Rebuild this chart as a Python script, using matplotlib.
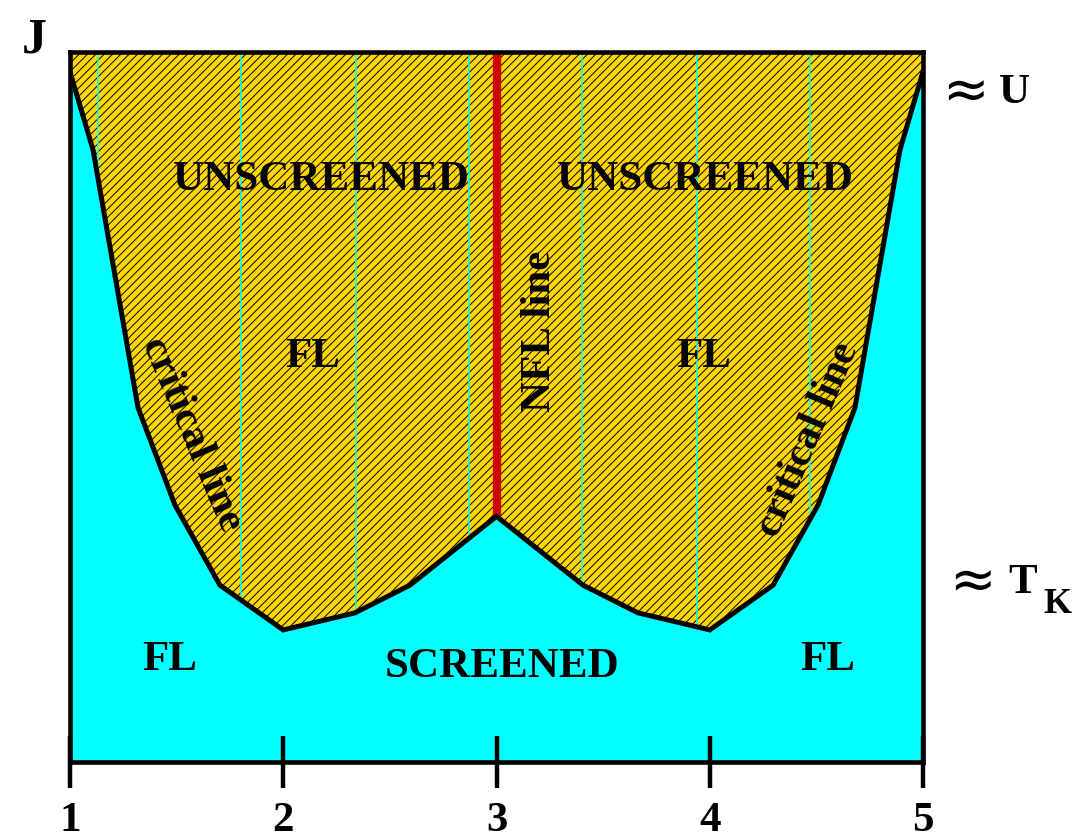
import numpy as np
import matplotlib.pyplot as plt
from matplotlib.patches import Polygon

plt.rcParams['font.family'] = ['Liberation Serif', 'DejaVu Serif']
plt.rcParams['font.weight'] = 'bold'
plt.rcParams['hatch.linewidth'] = 0.7

# critical line (x = N, y = J in units of the full height 0..10)
crit_x = [1.0, 1.108, 1.319, 1.492, 1.703, 2.0, 2.336, 2.594, 3.0,
          3.406, 3.664, 4.0, 4.297, 4.508, 4.681, 4.892, 5.0]
crit_y = [9.72, 8.62, 4.99, 3.62, 2.49, 1.86, 2.10, 2.49, 3.46,
          2.49, 2.10, 1.86, 2.49, 3.62, 4.99, 8.62, 9.72]
ymax = 10.0
nfl_x = 3.0
nfl_bottom = 3.46
guide_x = [1.13, 1.80, 2.34, 2.87, 3.40, 3.94, 4.47]
xticks = [1, 2, 3, 4, 5]

GOLD = '#ffd700'
CYAN = '#00ffff'

fig = plt.figure(figsize=(10.79, 8.40), dpi=100)
ax = fig.add_axes([0.0649, 0.0929, 0.7905, 0.8452])
ax.set_facecolor(CYAN)
ax.set_xlim(1, 5)
ax.set_ylim(0, ymax)

# unscreened region: hatched gold polygon above the critical line
verts = list(zip(crit_x, crit_y)) + [(5.0, ymax), (1.0, ymax)]
region = Polygon(verts, closed=True, facecolor=GOLD, edgecolor='black',
                 hatch='////', linewidth=0, zorder=1)
ax.add_patch(region)

vl = ax.vlines(guide_x, 0, ymax, colors=CYAN, linewidth=1.1, zorder=2)
vl.set_clip_path(region)

ax.plot(crit_x, crit_y, color='black', linewidth=3.6, zorder=4,
        solid_joinstyle='miter')
ax.plot([nfl_x, nfl_x], [nfl_bottom, ymax], color='#d00000',
        linewidth=6, zorder=3, solid_capstyle='butt')

for s in ax.spines.values():
    s.set_linewidth(3.3)
    s.set_zorder(5)

ax.set_xticks(xticks)
ax.set_xticklabels([str(t) for t in xticks])
ax.set_yticks([])
ax.tick_params(axis='x', direction='inout', length=38, width=3.2,
               pad=10, labelsize=31)

fs = 31
ax.text(2.177, 8.20, 'UNSCREENED', fontsize=fs, ha='center', va='center', zorder=6)
ax.text(3.978, 8.20, 'UNSCREENED', fontsize=fs, ha='center', va='center', zorder=6)
ax.text(2.14, 5.70, 'FL', fontsize=fs, ha='center', va='center', zorder=6)
ax.text(3.97, 5.70, 'FL', fontsize=fs, ha='center', va='center', zorder=6)
ax.text(1.469, 1.44, 'FL', fontsize=fs, ha='center', va='center', zorder=6)
ax.text(4.555, 1.44, 'FL', fontsize=fs, ha='center', va='center', zorder=6)
ax.text(3.026, 1.34, 'SCREENED', fontsize=fs, ha='center', va='center', zorder=6)
ax.text(3.204, 6.06, 'NFL line', fontsize=fs, ha='center', va='center',
        rotation=90, zorder=6)
ax.text(1.572, 4.61, 'critical line', fontsize=fs, ha='center', va='center',
        rotation=-67, rotation_mode='anchor', zorder=6)
ax.text(4.461, 4.54, 'critical line', fontsize=fs, ha='center', va='center',
        rotation=67, rotation_mode='anchor', zorder=6)

# labels outside the frame
fig.text(0.032, 0.952, 'J', fontsize=36, ha='center', va='center')
fig.text(0.895, 0.889, '≈', fontsize=40, family='DejaVu Sans', fontweight='normal',
         ha='center', va='center')
fig.text(0.940, 0.889, 'U', fontsize=31, ha='center', va='center')
fig.text(0.901, 0.305, '≈', fontsize=40, family='DejaVu Sans', fontweight='normal',
         ha='center', va='center')
fig.text(0.948, 0.306, 'T', fontsize=31, ha='center', va='center')
fig.text(0.980, 0.280, 'K', fontsize=26, ha='center', va='center')

fig.savefig('out.png', dpi=100)
